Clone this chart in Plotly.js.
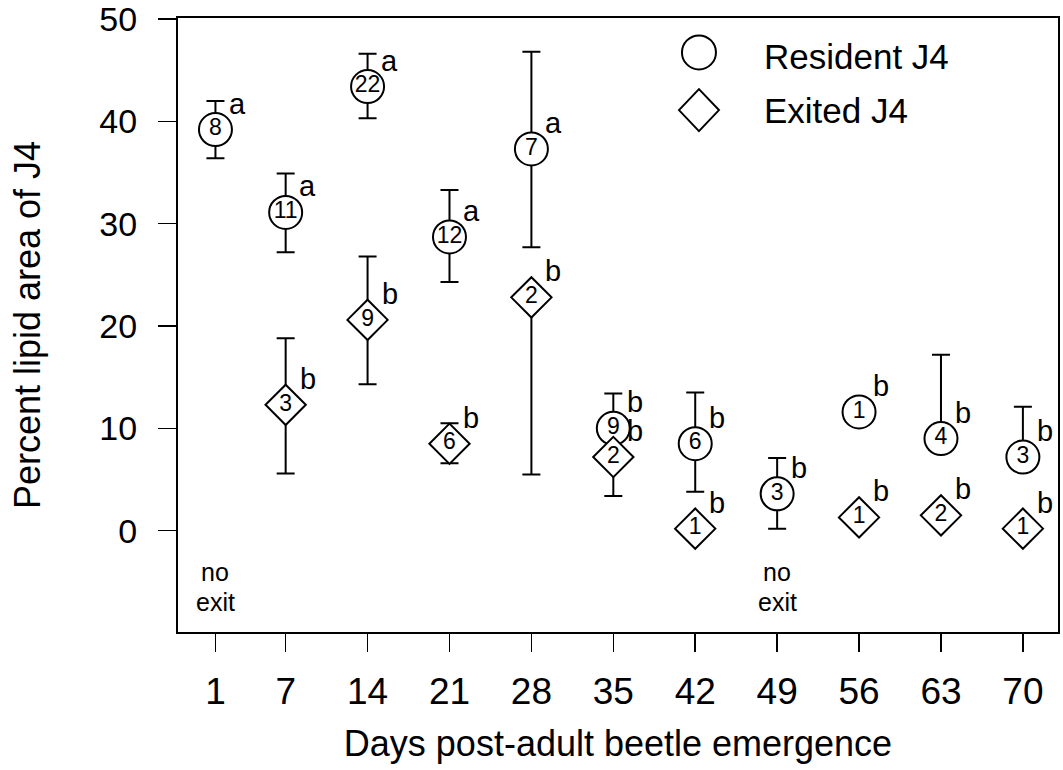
<!DOCTYPE html>
<html>
<head>
<meta charset="utf-8">
<script src="https://cdn.plot.ly/plotly-3.0.1.min.js"></script>
<style>html,body{margin:0;padding:0;background:#fff;}#chart{width:1063px;height:770px;}</style>
</head>
<body>
<div id="chart"></div>
<script>
// ---- data ----
const tickDays = [1, 7, 14, 21, 28, 35, 42, 49, 56, 63, 70];

const residentDays  = [1, 7, 14, 21, 28, 35, 42, 49, 56, 63, 70];
const residentMean  = [39.2, 31.1, 43.4, 28.7, 37.3, 10.0, 8.5, 3.6, 11.6, 9.0, 7.2];
const residentUpper = [42.0, 34.9, 46.6, 33.3, 46.8, 13.4, 13.5, 7.1, null, 17.2, 12.1];
const residentLower = [36.4, 27.2, 40.3, 24.3, 27.7, null, 3.8, 0.2, null, null, null];
const residentN     = ['8', '11', '22', '12', '7', '9', '6', '3', '1', '4', '3'];
const residentLetter = ['a', 'a', 'a', 'a', 'a', 'b', 'b', 'b', 'b', 'b', 'b'];

const exitedDays  = [7, 14, 21, 28, 35, 42, 56, 63, 70];
const exitedMean  = [12.3, 20.6, 8.5, 22.8, 7.2, 0.2, 1.3, 1.5, 0.2];
const exitedUpper = [18.8, 26.8, 10.5, null, null, null, null, null, null];
const exitedLower = [5.6, 14.3, 6.6, 5.5, 3.4, null, null, null, null];
const exitedN     = ['3', '9', '6', '2', '2', '1', '1', '2', '1'];
const exitedLetter = ['b', 'b', 'b', 'b', 'b', 'b', 'b', 'b', 'b'];

const noExitDays = [1, 49];
const noExitLines = ['no', 'exit'];
const noExitY = [-4.0, -7.0];

const yTicks = [0, 10, 20, 30, 40, 50];
const legendNames = ['Resident J4', 'Exited J4'];

// ---- helpers ----
function plusOf(mean, upper) { return mean.map((m, i) => upper[i] == null ? 0 : upper[i] - m); }
function minusOf(mean, lower) { return mean.map((m, i) => lower[i] == null ? 0 : m - lower[i]); }

const FONT = 'Liberation Sans, Arial, sans-serif';
const NARROW = 'Liberation Sans Narrow, Arial Narrow, Liberation Sans, Arial, sans-serif';

const resident = {
  type: 'scatter', mode: 'markers+text', name: legendNames[0],
  x: residentDays, y: residentMean, text: residentN,
  textposition: 'middle center', textfont: {family: NARROW, size: 23, color: '#000'},
  marker: {symbol: 'circle', size: 33, color: '#fff', line: {color: '#000', width: 2}},
  error_y: {type: 'data', symmetric: false, array: plusOf(residentMean, residentUpper),
            arrayminus: minusOf(residentMean, residentLower), color: '#000', thickness: 2, width: 9},
  cliponaxis: false, showlegend: false, hoverinfo: 'x+y'
};
const exited = {
  type: 'scatter', mode: 'markers+text', name: legendNames[1],
  x: exitedDays, y: exitedMean, text: exitedN,
  textposition: 'middle center', textfont: {family: NARROW, size: 23, color: '#000'},
  marker: {symbol: 'diamond', size: 31, color: '#fff', line: {color: '#000', width: 2}},
  error_y: {type: 'data', symmetric: false, array: plusOf(exitedMean, exitedUpper),
            arrayminus: minusOf(exitedMean, exitedLower), color: '#000', thickness: 2, width: 9},
  cliponaxis: false, showlegend: false, hoverinfo: 'x+y'
};

const annotations = [];
residentDays.forEach((d, i) => annotations.push({
  x: d, y: residentMean[i], xref: 'x', yref: 'y', text: residentLetter[i], showarrow: false,
  xshift: 22, yshift: 26, font: {family: FONT, size: 29, color: '#000'}
}));
exitedDays.forEach((d, i) => annotations.push({
  x: d, y: exitedMean[i], xref: 'x', yref: 'y', text: exitedLetter[i], showarrow: false,
  xshift: 22, yshift: 26, font: {family: FONT, size: 29, color: '#000'}
}));
noExitDays.forEach(d => noExitLines.forEach((t, j) => annotations.push({
  x: d, y: noExitY[j], xref: 'x', yref: 'y', text: t, showarrow: false,
  font: {family: FONT, size: 25, color: '#000'}, borderpad: 0
})));
// legend text
annotations.push({x: 0.6636, y: 0.938, xref: 'paper', yref: 'paper', xanchor: 'left', yanchor: 'middle',
  text: legendNames[0], showarrow: false, font: {family: FONT, size: 35, color: '#000'}});
annotations.push({x: 0.6636, y: 0.850, xref: 'paper', yref: 'paper', xanchor: 'left', yanchor: 'middle',
  text: legendNames[1], showarrow: false, font: {family: FONT, size: 35, color: '#000'}});

const shapes = [
  {type: 'circle', xref: 'paper', yref: 'paper', xsizemode: 'pixel', ysizemode: 'pixel',
   xanchor: 0.592, yanchor: 0.944, x0: -17, x1: 17, y0: -17, y1: 17,
   line: {color: '#000', width: 2}, fillcolor: 'rgba(0,0,0,0)'},
  {type: 'path', xref: 'paper', yref: 'paper', xsizemode: 'pixel', ysizemode: 'pixel',
   xanchor: 0.592, yanchor: 0.850, path: 'M -20 0 L 0 21 L 20 0 L 0 -21 Z',
   line: {color: '#000', width: 2}, fillcolor: 'rgba(0,0,0,0)'}
];

const layout = {
  width: 1063, height: 770,
  margin: {l: 178, r: 5, t: 18, b: 138},
  paper_bgcolor: '#fff', plot_bgcolor: '#fff',
  showlegend: false,
  font: {family: FONT, color: '#000'},
  xaxis: {
    range: [-2.2, 73], tickmode: 'array', tickvals: tickDays, ticktext: tickDays.map(String),
    ticks: 'outside', ticklen: 18, tickwidth: 1.5, tickcolor: '#000',
    showline: true, linecolor: '#000', linewidth: 2, mirror: true,
    showgrid: false, zeroline: false, ticklabelstandoff: 8, ticklabeloverflow: 'allow',
    tickfont: {family: NARROW, size: 37, color: '#000'},
    title: {text: 'Days post-adult beetle emergence', font: {family: FONT, size: 36, color: '#000'}, standoff: 19}
  },
  yaxis: {
    range: [-9.9, 50.1], tickmode: 'array', tickvals: yTicks, ticktext: yTicks.map(String),
    ticks: 'outside', ticklen: 18, tickwidth: 1.5, tickcolor: '#000',
    showline: true, linecolor: '#000', linewidth: 2, mirror: true,
    showgrid: false, zeroline: false, ticklabelstandoff: 14, ticklabeloverflow: 'allow',
    tickfont: {family: FONT, size: 34, color: '#000'},
    title: {text: 'Percent lipid area of J4', font: {family: FONT, size: 36, color: '#000'}, standoff: 48}
  },
  annotations: annotations,
  shapes: shapes
};

Plotly.newPlot('chart', [resident, exited], layout, {displayModeBar: false, staticPlot: true});
</script>
</body>
</html>
